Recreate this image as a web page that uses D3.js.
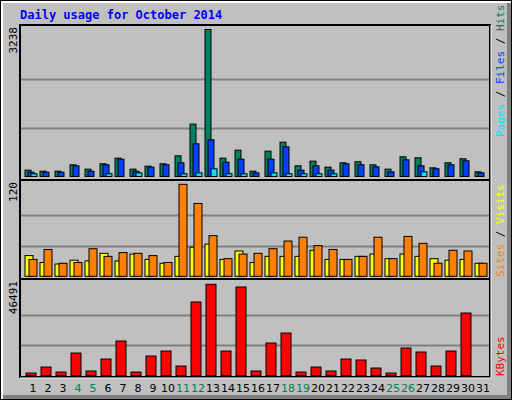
<!DOCTYPE html>
<html><head><meta charset="utf-8">
<script src="https://cdn.jsdelivr.net/npm/d3@7"></script>
<style>body{margin:0;background:#fff}</style></head>
<body><script>
const days = d3.range(1, 32);
const weekend = [4,5,11,12,18,19,25,26];
const hits  = [140,117,117,258,162,280,404,162,228,280,456,1153,3238,404,580,117,558,756,235,338,206,302,324,258,162,434,412,191,302,390,103];
const files = [95,95,95,235,117,258,382,117,206,258,302,720,808,316,382,80,382,654,140,235,140,280,258,213,103,368,235,170,258,346,80];
const pages = [60,0,0,0,0,60,0,80,0,0,60,80,170,60,60,0,80,60,60,60,60,0,0,0,0,0,103,0,0,0,0];
const visits = [27,18,16,21,20,30,20,29,22,17,26,38,42,22,33,18,26,26,26,34,22,22,26,29,23,29,26,23,21,22,17];
const sites  = [22,35,17,18,36,26,31,30,27,18,120,95,53,23,29,30,36,46,51,40,35,22,26,51,23,52,43,17,34,33,17];
const kbytes = [1360,4410,1870,11530,2380,8480,17640,1870,10010,12550,4920,37500,46491,12550,45130,2380,16630,21700,1870,4410,2380,8480,7980,3900,1360,14080,12040,4920,12550,31880,0];
const maxHits = 3238, maxSites = 120, maxK = 46491;

const W = 512, H = 400;
const svg = d3.select("body").append("svg").attr("width", W).attr("height", H);
// frame
svg.append("rect").attr("x",0).attr("y",0).attr("width",W).attr("height",H).attr("fill","#000");
svg.append("rect").attr("x",1).attr("y",1).attr("width",W-2).attr("height",H-2).attr("fill","#fff");
svg.append("rect").attr("x",3).attr("y",3).attr("width",W-4).attr("height",H-4).attr("fill","#808080");
svg.append("rect").attr("x",3).attr("y",3).attr("width",W-8).attr("height",H-8).attr("fill","#c0c0c0");

svg.append("text").attr("x",20).attr("y",19).text("Daily usage for October 2014")
  .attr("font-family","DejaVu Sans Mono").attr("font-weight","bold").attr("font-size",12).attr("fill","#0000ff");

const x = d3.scaleLinear().domain([1,31]).range([25,475]);
const L = 20, R = 490;
const panels = [
  {top:25, bot:180, base:176.5, max:maxHits, label:"3238"},
  {top:180, bot:279, base:276.3, max:maxSites, label:"120"},
  {top:279, bot:377, base:375.7, max:maxK, label:"46491"}
];
const ys = [];
panels.forEach((p,i) => {
  const topv = i==0?29.5:(i==1?184.3:284.3);
  const y = d3.scaleLinear().domain([0,p.max]).range([p.base, topv]);
  ys.push(y);
  svg.append("rect").attr("x",L).attr("y",p.top).attr("width",R-L).attr("height",p.bot-p.top)
    .attr("fill","#c0c0c0").attr("stroke","#000").attr("stroke-width",2);
  [1/3,2/3].forEach(f => {
    const yy = p.base - (p.base - topv) * f - (i==0?0:0);
    svg.append("line").attr("x1",L+1).attr("x2",R-1).attr("y1",Math.round(yy)+0.5).attr("y2",Math.round(yy)+0.5)
      .attr("stroke","#808080").attr("stroke-width",2);
  });
  svg.append("text").attr("transform",`translate(17,${p.top+2}) rotate(-90)`).attr("text-anchor","end")
    .attr("font-family","DejaVu Sans Mono").attr("font-size",11).attr("fill","#000").text(p.label);
});
svg.append("line").attr("x1",R+1).attr("x2",R+1).attr("y1",25).attr("y2",378).attr("stroke","#fff");
svg.append("line").attr("x1",L).attr("x2",R+1).attr("y1",378).attr("y2",378).attr("stroke","#fff");

function bars(data, y, dx, w, color) {
  svg.append("g").selectAll("rect").data(days).join("rect")
    .attr("x", d => x(d) + dx).attr("width", w)
    .attr("y", (d,i) => y(data[i])).attr("height", (d,i) => Math.max(0, y(0) - y(data[i])))
    .attr("fill", color).attr("stroke","#000").attr("stroke-width",1);
}
bars(hits, ys[0], 0, 6, "#00805c");
bars(files, ys[0], 3, 6, "#0040ff");
bars(pages, ys[0], 6, 6, "#00e0ff");
bars(visits, ys[1], 0, 8, "#ffff00");
bars(sites, ys[1], 4, 8, "#ff8000");
bars(kbytes, ys[2], 1, 10, "#ff0000");

// day labels
svg.append("g").selectAll("text").data(days).join("text")
  .attr("x", d => x(d) + 8).attr("y", 392).attr("text-anchor","middle")
  .attr("font-family","DejaVu Sans").attr("font-size",11)
  .attr("fill", d => weekend.includes(d) ? "#00805c" : "#000").text(d => d);

function sideLabel(y, parts) {
  const t = svg.append("text").attr("transform",`translate(504,${y}) rotate(-90)`)
    .attr("font-family","DejaVu Sans Mono").attr("font-size",11);
  parts.forEach(([s,c]) => t.append("tspan").attr("fill",c).text(s));
}
sideLabel(137, [["Pages","#00e0ff"],[" / ","#000"],["Files","#0040ff"],[" / ","#000"],["Hits","#00805c"]]);
sideLabel(277, [["Sites","#ff8000"],[" / ","#000"],["Visits","#ffff00"]]);
sideLabel(376, [["KBytes","#ff0000"]]);
</script></body></html>
